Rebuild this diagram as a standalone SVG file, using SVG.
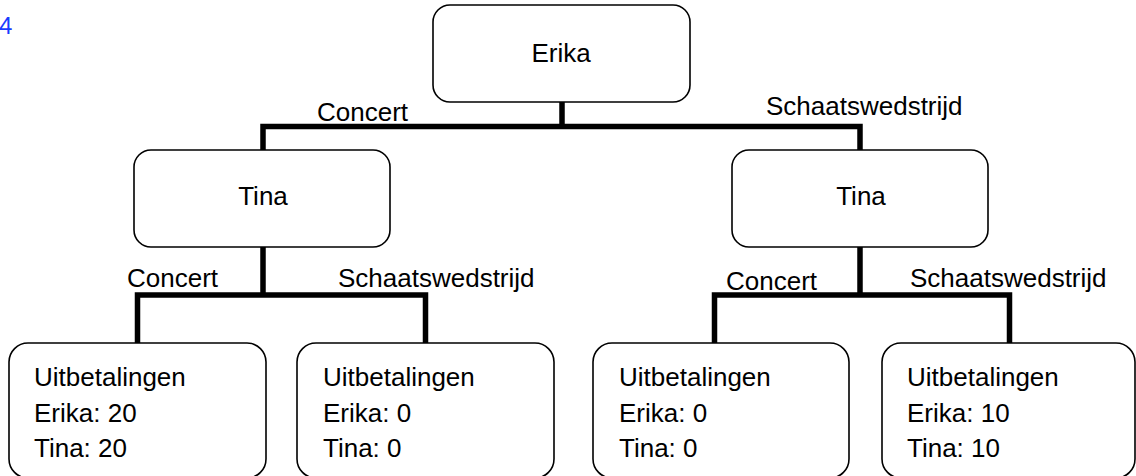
<svg xmlns="http://www.w3.org/2000/svg" width="1136" height="476" viewBox="0 0 1136 476">
<style>
text{font-family:"Liberation Sans",Arial,sans-serif;font-size:26px;fill:#000}
.box{fill:#fff;stroke:#000;stroke-width:1.6}
.c{text-anchor:middle}
.conn{fill:none;stroke:#000;stroke-width:5.5;stroke-linejoin:miter;stroke-linecap:butt}
</style>
<rect width="1136" height="476" fill="#fff"/>
<text x="-1" y="34" style="font-size:24px;fill:#1a3cff">4</text>
<g id="connectors">
<path class="conn" d="M562,102V126.5M263,150V126.5H860V150"/>
<path class="conn" d="M263,247V295M137.5,343V295H425.5V343"/>
<path class="conn" d="M860,247V295M714.5,343V295H1009.5V343"/>
<text x="317" y="121">Concert</text>
<text x="766" y="115">Schaatswedstrijd</text>
<text x="127" y="287">Concert</text>
<text x="338" y="287">Schaatswedstrijd</text>
<text x="726" y="290">Concert</text>
<text x="910" y="287">Schaatswedstrijd</text>
</g>
<g id="erika"><rect class="box" x="433" y="5" width="257" height="97" rx="17"/><text class="c" x="561" y="62">Erika</text></g>
<g id="tina-left"><rect class="box" x="134" y="150" width="256" height="97" rx="17"/><text class="c" x="263" y="205">Tina</text></g>
<g id="tina-right"><rect class="box" x="732" y="150" width="256" height="97" rx="17"/><text class="c" x="861" y="205">Tina</text></g>
<g id="leaf1"><rect class="box" x="9" y="343" width="257" height="135" rx="19"/><text x="34" y="386">Uitbetalingen</text><text x="34" y="422">Erika: 20</text><text x="34" y="457">Tina: 20</text></g>
<g id="leaf2"><rect class="box" x="297" y="343" width="257" height="135" rx="19"/><text x="323" y="386">Uitbetalingen</text><text x="323" y="422">Erika: 0</text><text x="323" y="457">Tina: 0</text></g>
<g id="leaf3"><rect class="box" x="593" y="343" width="256" height="135" rx="19"/><text x="619" y="386">Uitbetalingen</text><text x="619" y="422">Erika: 0</text><text x="619" y="457">Tina: 0</text></g>
<g id="leaf4"><rect class="box" x="882" y="343" width="253" height="135" rx="19"/><text x="907" y="386">Uitbetalingen</text><text x="907" y="422">Erika: 10</text><text x="907" y="457">Tina: 10</text></g>
</svg>
